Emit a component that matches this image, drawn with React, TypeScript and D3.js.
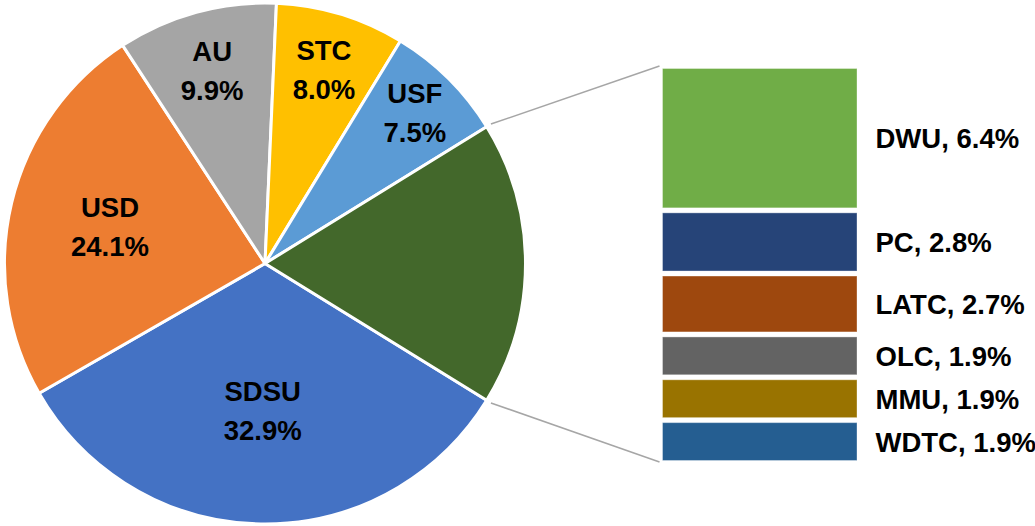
import React from "react";
import * as d3 from "d3";

const pieNames = ["SDSU", "USD", "AU", "STC", "USF"];
const pieValues = [32.9, 24.1, 9.9, 8.0, 7.5];
const pieColors = ["#4472C4", "#ED7D31", "#A5A5A5", "#FFC000", "#5B9BD5"];
const otherColor = "#43682B";

const barNames = ["DWU", "PC", "LATC", "OLC", "MMU", "WDTC"];
const barValues = [6.4, 2.8, 2.7, 1.9, 1.9, 1.9];
const barColors = ["#70AD47", "#264478", "#9E480E", "#636363", "#997300", "#255E91"];

const labelRadius = [0.563, 0.612, 0.769, 0.778, 0.816];

export default function App() {
  const W = 1035, H = 526;
  const cx = 265, cy = 263.5, R = 260.5;
  const otherVal = d3.sum(barValues);
  const values = [...pieValues, otherVal];
  const total = d3.sum(values);
  const otherAng = (otherVal / total) * Math.PI * 2;
  const start = Math.PI / 2 + otherAng / 2;
  const pie = d3.pie<number>().sort(null).value((d) => d).startAngle(start).endAngle(start + Math.PI * 2);
  const arcs = pie(values);
  const arc = d3.arc<d3.PieArcDatum<number>>().innerRadius(0).outerRadius(R);

  const font = "'Liberation Sans', Arial, sans-serif";
  const fs = 27.5;

  const barX0 = 662.5, barX1 = 857;
  const y = d3.scaleLinear().domain([0, otherVal]).range([66, 463]);
  let acc = 0;
  const segs = barValues.map((v, i) => {
    const s = { name: barNames[i], v, y0: y(acc), y1: y(acc + v), color: barColors[i] };
    acc += v;
    return s;
  });

  const otherArc = arcs[5];
  const pt = (a: number, r: number) => [cx + Math.sin(a) * r, cy - Math.cos(a) * r];
  const [tx, ty] = pt(otherArc.startAngle, R + 5);
  const [bx, by] = pt(otherArc.endAngle, R + 5);

  return (
    <svg width={W} height={H} style={{ position: "absolute", left: 0, top: 0, background: "#fff" }}>
      <g transform={`translate(${cx},${cy})`}>
        {arcs.map((a, i) => (
          <path key={i} d={arc(a) || ""} fill={i < 5 ? pieColors[i] : otherColor} stroke="#fff" strokeWidth={3} strokeLinejoin="round" />
        ))}
      </g>
      <line x1={tx} y1={ty} x2={barX0 - 3} y2={y(0)} stroke="#A6A6A6" strokeWidth={1.5} />
      <line x1={bx} y1={by} x2={barX0 - 3} y2={y(otherVal) - 1} stroke="#A6A6A6" strokeWidth={1.5} />
      {arcs.slice(0, 5).map((a, i) => {
        const mid = (a.startAngle + a.endAngle) / 2;
        const [lx, ly] = pt(mid, R * labelRadius[i]);
        return (
          <text key={i} x={lx} textAnchor="middle" fontFamily={font} fontWeight="bold" fontSize={fs} fill="#000">
            <tspan x={lx} y={ly - 9.5}>{pieNames[i]}</tspan>
            <tspan x={lx} y={ly + 29.5}>{pieValues[i].toFixed(1) + "%"}</tspan>
          </text>
        );
      })}
      {segs.map((s, i) => (
        <g key={i}>
          <rect x={barX0} y={s.y0 + 2.5} width={barX1 - barX0} height={s.y1 - s.y0 - 5} fill={s.color} stroke="rgba(255,255,255,0.35)" strokeWidth={1} />
          <text x={875.5} y={(s.y0 + s.y1) / 2 + 10} fontFamily={font} fontWeight="bold" fontSize={fs} fill="#000">
            {`${s.name}, ${s.v.toFixed(1)}%`}
          </text>
        </g>
      ))}
    </svg>
  );
}
